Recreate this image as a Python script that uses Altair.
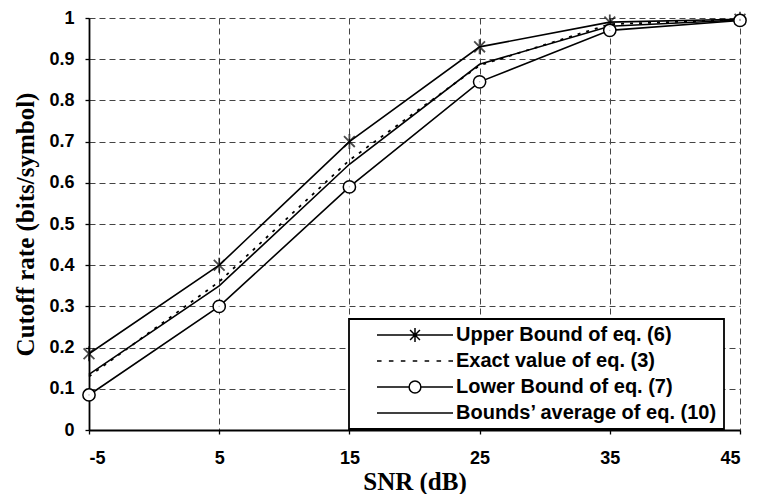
import altair as alt
import pandas as pd

snr = [-5, 5, 15, 25, 35, 45]
upper = [0.185, 0.40, 0.70, 0.93, 0.99, 0.997]
exact = [0.13, 0.36, 0.655, 0.885, 0.985, 0.996]
lower = [0.085, 0.30, 0.59, 0.845, 0.97, 0.994]
average = [0.135, 0.35, 0.645, 0.8875, 0.98, 0.995]

series_names = [
    "Upper Bound of eq. (6)",
    "Exact value of eq. (3)",
    "Lower Bound of eq. (7)",
    "Bounds\u2019 average of eq. (10)",
]
y_ticks = [0, 0.1, 0.2, 0.3, 0.4, 0.5, 0.6, 0.7, 0.8, 0.9, 1]
x_ticks = [-5, 5, 15, 25, 35, 45]

rows = []
for name, vals in zip(series_names, [upper, exact, lower, average]):
    for s, v in zip(snr, vals):
        rows.append({"snr": s, "value": v, "series": name})
df = pd.DataFrame(rows)

# marker / legend symbol paths (unit box -1..1)
ASTERISK = "M-0.72,-0.72L0.72,0.72M-0.72,0.72L0.72,-0.72M0,-1L0,1"
r = 0.155
LEG_UPPER = "M-1,0L1,0M-0.13,-0.13L0.13,0.13M-0.13,0.13L0.13,-0.13M0,-0.184L0,0.184"
LEG_LOWER = (f"M-1,0L-{r},0A{r},{r} 0 1,1 {r},0A{r},{r} 0 1,1 -{r},0"
             f"M{r},0L1,0")
LEG_SOLID = "M-1,0L1,0"
dash_len, period = 0.12, (2 - 0.12) / 6
LEG_DASH = "".join(
    f"M{-1 + i * period:.3f},0L{-1 + i * period + dash_len:.3f},0" for i in range(7)
)

x_enc = alt.X(
    "snr:Q",
    scale=alt.Scale(domain=[-5, 45], nice=False, zero=False),
    axis=alt.Axis(values=x_ticks, title="SNR (dB)", labelPadding=15, titlePadding=2,
                  labelExpr="'' + datum.value"),
)
y_enc = alt.Y(
    "value:Q",
    scale=alt.Scale(domain=[0, 1], nice=False),
    axis=alt.Axis(values=y_ticks, format="~g", title="Cutoff rate (bits/symbol)",
                  labelPadding=11, titlePadding=10),
)

base = alt.Chart(df)

solid_lines = base.transform_filter(
    alt.datum.series != series_names[1]
).mark_line(color="black", strokeWidth=1.6).encode(x=x_enc, y=y_enc, detail="series:N")

exact_line = base.transform_filter(
    alt.datum.series == series_names[1]
).mark_line(color="black", strokeWidth=1.8, strokeDash=[3, 6]).encode(x=x_enc, y=y_enc)

upper_pts = base.transform_filter(
    alt.datum.series == series_names[0]
).mark_point(shape=ASTERISK, size=225, color="black", strokeWidth=1.8, filled=False).encode(
    x=x_enc, y=y_enc
)

lower_pts = base.transform_filter(
    alt.datum.series == series_names[2]
).mark_point(shape="circle", size=150, filled=True, fill="white", stroke="black",
             strokeWidth=1.5, opacity=1).encode(x=x_enc, y=y_enc)

legend_layer = base.mark_point(size=1, color="black", filled=False,
                               strokeWidth=0.5).encode(
    x=x_enc,
    y=y_enc,
    shape=alt.Shape(
        "series:N",
        scale=alt.Scale(domain=series_names,
                        range=[LEG_UPPER, LEG_DASH, LEG_LOWER, LEG_SOLID]),
        legend=alt.Legend(
            title=None,
            orient="none",
            legendX=260,
            legendY=301,
            strokeColor="black",
            fillColor="white",
            padding=6,
            symbolSize=5776,
            clipHeight=20,
            rowPadding=6,
            symbolOffset=21,
            labelOffset=2,
            labelFont="Liberation Sans",
            labelFontWeight="bold",
            labelFontSize=20,
            labelColor="black",
            labelLimit=1000,
            labelExpr="datum.label + '\u00a0\u00a0'",
            symbolStrokeColor="black",
            symbolStrokeWidth=1.5,
            symbolOpacity=1,
        ),
    ),
)

chart = (
    alt.layer(solid_lines, exact_line, upper_pts, lower_pts, legend_layer)
    .properties(
        width=742,
        height=486,
        autosize=alt.AutoSizeParams(type="fit", contains="padding"),
        padding={"left": 5, "top": 0, "right": 0, "bottom": 0},
        background="white",
    )
    .configure_view(stroke=None)
    .configure_axis(
        labelFont="Liberation Sans",
        labelFontWeight="bold",
        labelFontSize=18,
        labelColor="black",
        titleFont="Liberation Serif",
        titleFontWeight="bold",
        titleFontSize=25,
        titleColor="black",
        domainColor="black",
        domainWidth=1.8,
        tickColor="black",
        tickSize=4,
        tickWidth=1.3,
        gridColor="#444444",
        gridDash=[6, 4],
        gridWidth=1,
        labelOverlap=False,
    )
    .configure_legend(strokeWidth=1.8)
)

chart.save("out.html", embed_options={"renderer": "svg", "actions": False})
